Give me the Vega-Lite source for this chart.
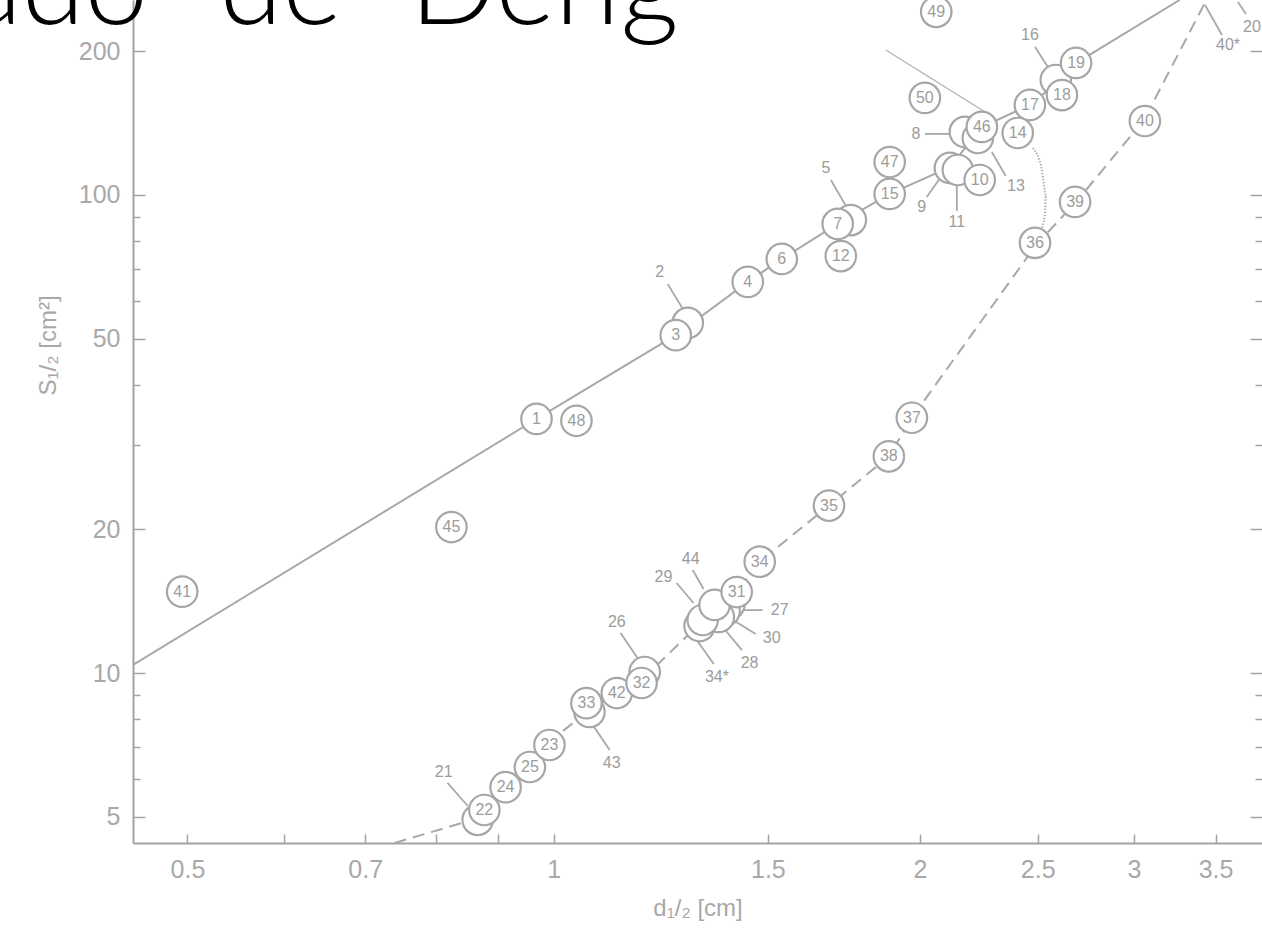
{
  "$schema": "https://vega.github.io/schema/vega-lite/v6.json",
  "autosize": {"type": "none"},
  "padding": {"left": 133, "top": 0, "right": 0, "bottom": 97},
  "width": 1129,
  "height": 843,
  "background": "white",
  "config": {
    "view": {"stroke": null},
    "axis": {
      "grid": false,
      "domainColor": "#a3a3a3",
      "domainWidth": 2,
      "tickColor": "#a3a3a3",
      "tickWidth": 1.5,
      "labelColor": "#a8a8a8",
      "labelFont": "Liberation Sans",
      "labelFontSize": 25,
      "titleFont": "Liberation Sans",
      "titleFontSize": 24,
      "titleFontWeight": "normal",
      "titleColor": "#a8a8a8"
    }
  },
  "datasets": {
    "lines": [
      {"s": "A", "o": 1, "x": 0.451, "y": 10.40},
      {"s": "A", "o": 2, "x": 0.968, "y": 34.0},
      {"s": "A", "o": 3, "x": 1.26, "y": 50.9},
      {"s": "A", "o": 4, "x": 1.444, "y": 65.8},
      {"s": "A", "o": 5, "x": 1.54, "y": 73.5},
      {"s": "A", "o": 6, "x": 1.712, "y": 87.0},
      {"s": "A", "o": 7, "x": 1.889, "y": 100.5},
      {"s": "A", "o": 8, "x": 2.117, "y": 114.4},
      {"s": "A", "o": 9, "x": 2.249, "y": 138.7},
      {"s": "A", "o": 10, "x": 2.463, "y": 154.3},
      {"s": "A", "o": 11, "x": 2.597, "y": 172.3},
      {"s": "A", "o": 12, "x": 2.688, "y": 188.8},
      {"s": "A", "o": 13, "x": 3.27, "y": 255.8},
      {"s": "B", "o": 1, "x": 0.740, "y": 4.41},
      {"s": "B", "o": 2, "x": 0.866, "y": 4.97},
      {"s": "B", "o": 3, "x": 0.917, "y": 5.80},
      {"s": "B", "o": 4, "x": 0.991, "y": 7.17},
      {"s": "B", "o": 5, "x": 1.07, "y": 8.37},
      {"s": "B", "o": 6, "x": 1.188, "y": 9.81},
      {"s": "B", "o": 7, "x": 1.323, "y": 12.79},
      {"s": "B", "o": 8, "x": 1.414, "y": 14.8},
      {"s": "B", "o": 9, "x": 1.477, "y": 17.1},
      {"s": "B", "o": 10, "x": 1.684, "y": 22.4},
      {"s": "B", "o": 11, "x": 1.886, "y": 28.4},
      {"s": "B", "o": 12, "x": 1.97, "y": 34.2},
      {"s": "B", "o": 13, "x": 2.492, "y": 78.6},
      {"s": "B", "o": 14, "x": 2.692, "y": 97.1},
      {"s": "B", "o": 15, "x": 3.057, "y": 143.6},
      {"s": "B", "o": 16, "x": 3.44, "y": 255.8},
      {"s": "C", "o": 1, "x": 1.875, "y": 201.1},
      {"s": "C", "o": 2, "x": 2.284, "y": 147.0},
      {"s": "D", "o": 1, "x": 2.477, "y": 125.4},
      {"s": "D", "o": 2, "x": 2.520, "y": 112.8},
      {"s": "D", "o": 3, "x": 2.539, "y": 100.0},
      {"s": "D", "o": 4, "x": 2.534, "y": 90.8},
      {"s": "D", "o": 5, "x": 2.510, "y": 83.7}
    ],
    "circles": [
      {"id": "41", "x": 0.495, "y": 14.8, "t": "41"},
      {"id": "45", "x": 0.824, "y": 20.2, "t": "45"},
      {"id": "1", "x": 0.968, "y": 34.0, "t": "1"},
      {"id": "48", "x": 1.044, "y": 33.7, "t": "48"},
      {"id": "2", "x": 1.289, "y": 54.0, "t": ""},
      {"id": "3", "x": 1.26, "y": 50.9, "t": "3"},
      {"id": "4", "x": 1.444, "y": 65.8, "t": "4"},
      {"id": "6", "x": 1.54, "y": 73.5, "t": "6"},
      {"id": "12", "x": 1.722, "y": 74.5, "t": "12"},
      {"id": "5", "x": 1.755, "y": 88.6, "t": ""},
      {"id": "7", "x": 1.712, "y": 87.0, "t": "7"},
      {"id": "15", "x": 1.889, "y": 100.5, "t": "15"},
      {"id": "47", "x": 1.889, "y": 117.2, "t": "47"},
      {"id": "50", "x": 2.019, "y": 159.6, "t": "50"},
      {"id": "49", "x": 2.063, "y": 241.6, "t": "49"},
      {"id": "9", "x": 2.117, "y": 113.9, "t": ""},
      {"id": "11", "x": 2.149, "y": 112.8, "t": ""},
      {"id": "10", "x": 2.24, "y": 107.5, "t": "10"},
      {"id": "8", "x": 2.178, "y": 135.5, "t": ""},
      {"id": "13", "x": 2.232, "y": 131.6, "t": ""},
      {"id": "46", "x": 2.249, "y": 138.8, "t": "46"},
      {"id": "17", "x": 2.463, "y": 154.3, "t": "17"},
      {"id": "14", "x": 2.407, "y": 134.8, "t": "14"},
      {"id": "16", "x": 2.587, "y": 174.0, "t": ""},
      {"id": "18", "x": 2.617, "y": 161.8, "t": "18"},
      {"id": "19", "x": 2.688, "y": 188.9, "t": "19"},
      {"id": "21", "x": 0.866, "y": 4.93, "t": ""},
      {"id": "22", "x": 0.877, "y": 5.17, "t": "22"},
      {"id": "24", "x": 0.913, "y": 5.77, "t": "24"},
      {"id": "25", "x": 0.956, "y": 6.36, "t": "25"},
      {"id": "23", "x": 0.992, "y": 7.07, "t": "23"},
      {"id": "43", "x": 1.07, "y": 8.29, "t": ""},
      {"id": "33", "x": 1.064, "y": 8.65, "t": "33"},
      {"id": "42", "x": 1.127, "y": 9.08, "t": "42"},
      {"id": "26", "x": 1.188, "y": 10.05, "t": ""},
      {"id": "32", "x": 1.181, "y": 9.53, "t": "32"},
      {"id": "27", "x": 1.395, "y": 13.94, "t": ""},
      {"id": "30", "x": 1.382, "y": 13.48, "t": ""},
      {"id": "28", "x": 1.367, "y": 13.10, "t": ""},
      {"id": "34*", "x": 1.318, "y": 12.54, "t": ""},
      {"id": "29", "x": 1.326, "y": 12.91, "t": ""},
      {"id": "44", "x": 1.356, "y": 13.88, "t": ""},
      {"id": "31", "x": 1.414, "y": 14.77, "t": "31"},
      {"id": "34", "x": 1.477, "y": 17.1, "t": "34"},
      {"id": "35", "x": 1.684, "y": 22.4, "t": "35"},
      {"id": "38", "x": 1.886, "y": 28.4, "t": "38"},
      {"id": "37", "x": 1.97, "y": 34.2, "t": "37"},
      {"id": "36", "x": 2.487, "y": 79.4, "t": "36"},
      {"id": "39", "x": 2.683, "y": 96.7, "t": "39"},
      {"id": "40", "x": 3.062, "y": 142.8, "t": "40"}
    ],
    "callouts": [
      {"t": "2", "x": 1.222, "y": 69.0, "x1": 1.241, "y1": 65.1, "x2": 1.279, "y2": 57.4},
      {"t": "5", "x": 1.674, "y": 113.9, "x1": 1.690, "y1": 107.5, "x2": 1.739, "y2": 94.8},
      {"t": "8", "x": 1.985, "y": 134.2, "x1": 2.019, "y1": 134.2, "x2": 2.125, "y2": 134.2},
      {"t": "9", "x": 2.007, "y": 94.4, "x1": 2.026, "y1": 99.0, "x2": 2.081, "y2": 109.1},
      {"t": "11", "x": 2.145, "y": 87.8, "x1": 2.145, "y1": 92.6, "x2": 2.145, "y2": 105.4},
      {"t": "13", "x": 2.399, "y": 104.4, "x1": 2.353, "y1": 109.6, "x2": 2.292, "y2": 123.0},
      {"t": "16", "x": 2.463, "y": 216.1, "x1": 2.487, "y1": 204.0, "x2": 2.558, "y2": 182.6},
      {"t": "21", "x": 0.812, "y": 6.21, "x1": 0.818, "y1": 5.89, "x2": 0.850, "y2": 5.27},
      {"t": "26", "x": 1.127, "y": 12.79, "x1": 1.135, "y1": 12.13, "x2": 1.172, "y2": 10.75},
      {"t": "44", "x": 1.296, "y": 17.32, "x1": 1.301, "y1": 16.43, "x2": 1.328, "y2": 14.99},
      {"t": "29", "x": 1.231, "y": 15.88, "x1": 1.262, "y1": 15.43, "x2": 1.303, "y2": 14.01},
      {"t": "27", "x": 1.534, "y": 13.54, "x1": 1.425, "y1": 13.54, "x2": 1.485, "y2": 13.54},
      {"t": "30", "x": 1.511, "y": 11.84, "x1": 1.404, "y1": 12.91, "x2": 1.466, "y2": 12.07},
      {"t": "28", "x": 1.449, "y": 10.49, "x1": 1.377, "y1": 12.48, "x2": 1.428, "y2": 11.17},
      {"t": "34*", "x": 1.362, "y": 9.81, "x1": 1.311, "y1": 11.72, "x2": 1.354, "y2": 10.44},
      {"t": "43", "x": 1.116, "y": 6.48, "x1": 1.077, "y1": 7.78, "x2": 1.112, "y2": 6.90},
      {"t": "40*", "x": 3.584, "y": 206.0, "x1": 3.431, "y1": 249.7, "x2": 3.543, "y2": 216.1},
      {"t": "20", "x": 3.75, "y": 224.6, "x1": 3.652, "y1": 253.3, "x2": 3.708, "y2": 239.2}
    ],
    "heading": [
      {"t": "ado", "x": 0.3291, "y": 228},
      {"t": "de", "x": 0.5313, "y": 228},
      {"t": "Derig", "x": 0.7614, "y": 228}
    ]
  },
  "encoding": {
    "x": {"field": "x", "type": "quantitative", "scale": {"type": "log", "domain": [0.451, 3.822], "nice": false}},
    "y": {"field": "y", "type": "quantitative", "scale": {"type": "log", "domain": [4.41, 255.8], "nice": false}}
  },
  "layer": [
    {
      "data": {"name": "lines"},
      "transform": [{"filter": "datum.s === 'A'"}],
      "mark": {"type": "line", "color": "#a8a8a8", "strokeWidth": 2, "clip": true},
      "encoding": {
        "order": {"field": "o", "type": "quantitative"},
        "x": {"field": "x", "type": "quantitative", "axis": {
          "title": "d₁/₂ [cm]",
          "values": [0.5, 0.6, 0.7, 0.8, 0.9, 1, 1.5, 2, 2.5, 3, 3.5],
          "labelExpr": "(datum.value == 0.6 || datum.value == 0.8 || datum.value == 0.9) ? '' : format(datum.value, '~g')",
          "tickSize": -9,
          "labelPadding": 23,
          "titlePadding": 14
        }},
        "y": {"field": "y", "type": "quantitative", "axis": {
          "title": "S₁/₂ [cm²]",
          "orient": "left",
          "values": [5, 6, 7, 8, 9, 10, 20, 30, 40, 50, 60, 70, 80, 90, 100, 200],
          "labelExpr": "indexof([5, 10, 20, 50, 100, 200], datum.value) >= 0 ? format(datum.value, '~g') : ''",
          "tickSize": {"condition": {"test": "indexof([5, 10, 20, 50, 100, 200], datum.value) >= 0", "value": -12}, "value": -7},
          "labelPadding": 25,
          "titlePadding": 18,
          "titleY": 345
        }}
      }
    },
    {
      "data": {"name": "lines"},
      "transform": [{"filter": "datum.s === 'B'"}],
      "mark": {"type": "line", "color": "#a8a8a8", "strokeWidth": 2, "strokeDash": [12, 7], "clip": true},
      "encoding": {
        "order": {"field": "o", "type": "quantitative"},
        "y": {"field": "y", "type": "quantitative", "axis": {
          "orient": "right",
          "title": null,
          "domain": false,
          "labels": false,
          "values": [5, 6, 7, 8, 9, 10, 20, 30, 40, 50, 60, 70, 80, 90, 100, 200],
          "tickSize": {"condition": {"test": "indexof([5, 10, 20, 50, 100, 200], datum.value) >= 0", "value": -12}, "value": -7}
        }}
      }
    },
    {
      "data": {"name": "lines"},
      "transform": [{"filter": "datum.s === 'C'"}],
      "mark": {"type": "line", "color": "#b0b0b0", "strokeWidth": 1.2, "clip": true},
      "encoding": {
        "order": {"field": "o", "type": "quantitative"},
        "y": {"field": "y", "type": "quantitative", "axis": null}
      }
    },
    {
      "data": {"name": "lines"},
      "transform": [{"filter": "datum.s === 'D'"}],
      "mark": {"type": "line", "color": "#b0b0b0", "strokeWidth": 2, "strokeDash": [1.5, 1.5], "interpolate": "monotone", "clip": true},
      "encoding": {
        "order": {"field": "o", "type": "quantitative"},
        "y": {"field": "y", "type": "quantitative", "axis": null}
      }
    },
    {
      "data": {"name": "callouts"},
      "mark": {"type": "rule", "color": "#a8a8a8", "strokeWidth": 1.8, "clip": true},
      "encoding": {
        "x": {"field": "x1", "type": "quantitative"},
        "y": {"field": "y1", "type": "quantitative", "axis": null},
        "x2": {"field": "x2"},
        "y2": {"field": "y2"}
      }
    },
    {
      "data": {"name": "circles"},
      "mark": {"type": "point", "shape": "circle", "filled": false, "fill": "white", "fillOpacity": 1, "stroke": "#a6a6a6", "strokeWidth": 2.2, "opacity": 1, "size": 930, "clip": true},
      "encoding": {
        "y": {"field": "y", "type": "quantitative", "axis": null}
      }
    },
    {
      "data": {"name": "circles"},
      "mark": {"type": "text", "font": "Liberation Sans", "fontSize": 16, "color": "#9c9c9c", "align": "center", "baseline": "middle", "clip": true},
      "encoding": {
        "y": {"field": "y", "type": "quantitative", "axis": null},
        "text": {"field": "t"}
      }
    },
    {
      "data": {"name": "callouts"},
      "mark": {"type": "text", "font": "Liberation Sans", "fontSize": 16, "color": "#9c9c9c", "align": "center", "baseline": "middle", "clip": true},
      "encoding": {
        "y": {"field": "y", "type": "quantitative", "axis": null},
        "text": {"field": "t"}
      }
    },
    {
      "data": {"name": "heading"},
      "mark": {"type": "text", "font": "Lato", "fontWeight": 300, "fontSize": 114, "color": "#000000", "align": "left", "baseline": "alphabetic"},
      "encoding": {
        "y": {"field": "y", "type": "quantitative", "axis": null},
        "text": {"field": "t"}
      }
    }
  ],
  "resolve": {"axis": {"y": "independent"}}
}
